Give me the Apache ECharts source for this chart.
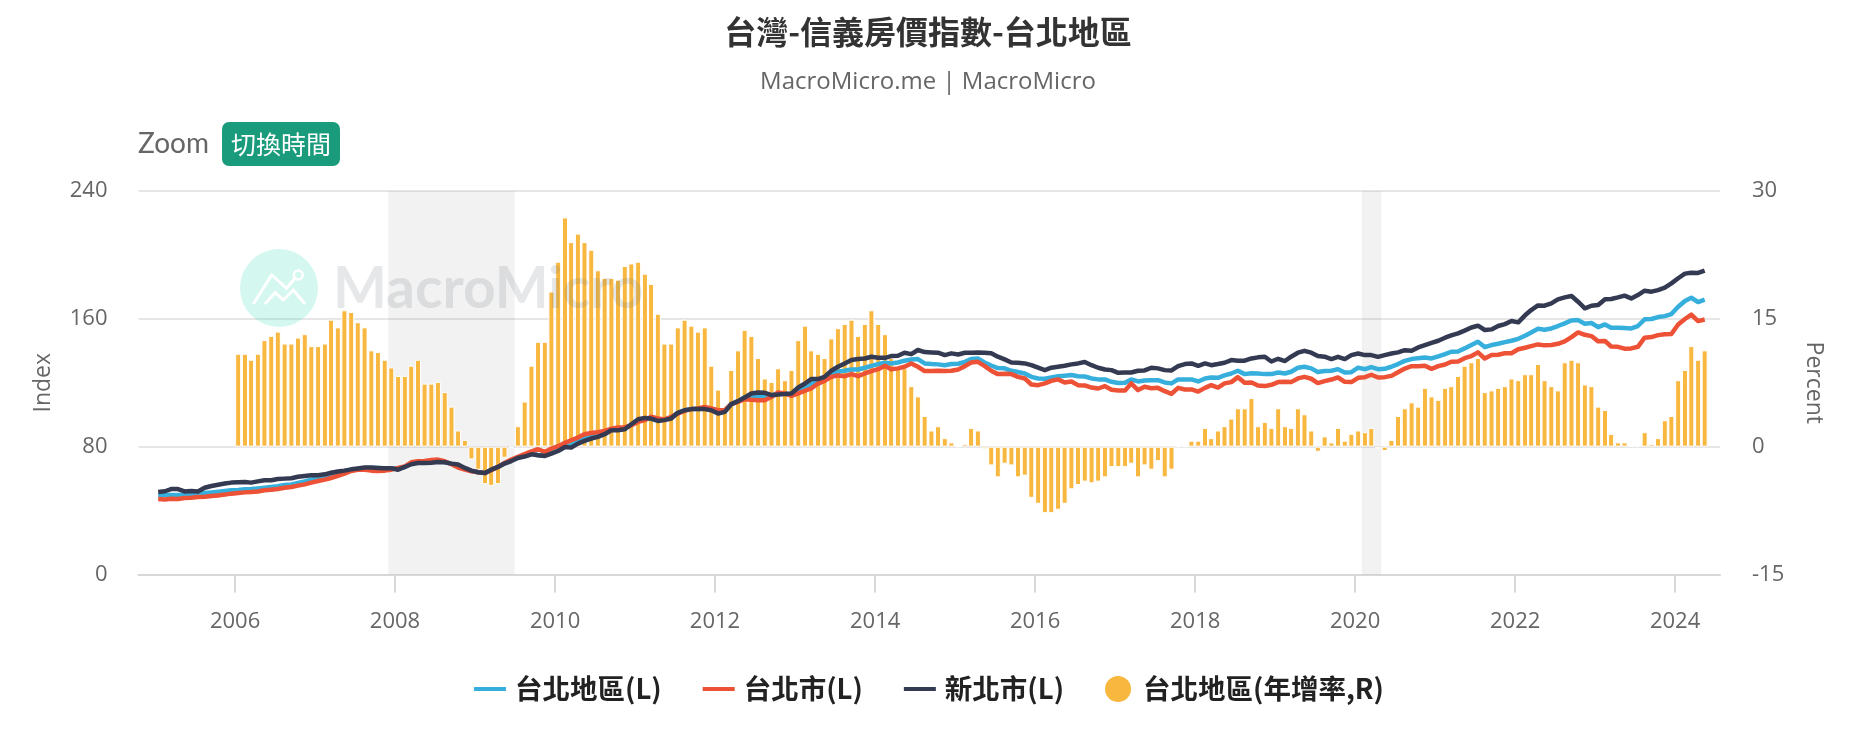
<!DOCTYPE html>
<html>
<head>
<meta charset="utf-8">
<title>台灣-信義房價指數-台北地區</title>
<script src="https://cdn.jsdelivr.net/npm/echarts@6/dist/echarts.min.js"></script>
<style>
html,body{margin:0;padding:0;background:#fff;}
#main{width:1856px;height:751px;}
</style>
</head>
<body>
<div id="main"></div>
<script>
// monthly, 2005-01 .. 2024-05
var taipeiArea=[49.5,49.8,49.8,49.8,49.8,50.2,50.6,51,51.4,51.8,52.3,52.7,
52.9,53.3,53.5,53.9,54.3,54.8,55.2,56,56.4,57.3,58.3,59.4,
60.6,61.4,62.5,63.5,64.6,65.6,66,66.5,66.7,66.7,66.3,66.3,
66.3,67.3,69.4,70,70.2,70.6,70.9,70.4,69.2,68.1,66.3,64.8,
64,63.5,65.4,67.3,69.6,71.5,73.2,74.6,
76.3,74.6,74.6,76.7,78.2,80.3,80.9,83.6,85.7,86.7,87.6,88.8,90.7,90.9,91.3,93.8,
96.6,97.6,97.6,96.6,97,98.2,101.2,102.8,103.5,103.5,103.9,103.3,101.8,102.4,106.6,108.3,
110.8,111.6,111.6,111.2,112.2,113.3,113.1,112.7,115,117,119.1,121.2,122.7,125.4,126.9,127.5,
128.3,128.3,129.4,130.6,131.7,132.5,132.1,132.7,133.8,134.6,134.8,132.1,
131.7,131.5,131,131.7,131.9,133.1,134.8,135.2,132.7,130.8,129.2,129,
127.5,126.7,125.8,123.7,122.7,122.5,123.3,124.1,124.4,124.8,124.1,123.9,
122.7,122.1,122.1,120.6,119.8,120,122.1,120.8,121.4,121.6,121.6,120.2,
119.6,122.1,122.1,122.1,120.8,122.7,123.3,123.1,124.6,125.8,127.5,125.4,
126,125.8,125.4,125.4,126.4,125.8,126.9,129.4,130,129,126.7,127.3,
127.5,128.5,126.4,126.6,129.4,128.5,129.8,128.5,128.7,130,131.7,133.7,134.8,135.4,135.8,135.2,
136.5,137.9,139.4,139.6,141.5,143.6,145.7,142.3,143.6,144.4,145.4,146.3,147.5,149.4,151.5,153.8,153.2,
154,155.5,157.2,159,159.2,156.9,157.4,154.8,156.5,154.4,154.4,154.2,154,155.5,159.7,159.9,161.1,161.7,
163,167.6,171.2,173.2,170.5,172];
var taipeiCity=[47.2,47,47.4,47.2,47.9,48.1,48.5,48.7,49.1,49.5,50,50.6,
51,51.4,51.6,52,52.7,53.1,53.5,54.3,54.8,55.6,56.4,57.5,
58.5,59.4,60.4,61.7,63.1,64.8,65.6,65.6,65,64.8,65,65.6,
66.7,67.7,70.2,70.9,71,71.7,71.9,70.9,69,66.9,65.6,64.6,
64,63.5,65.2,67.3,69.8,71.9,73.6,75.3,
77.1,78.4,76.7,78.8,80.3,82.4,84,85.7,87.8,88.6,89,89.9,91.3,92,92,93.4,
95.5,96.6,98.7,97.6,97,98.7,100.7,102.4,103.5,103.9,104.9,103.9,102.8,102.8,106.6,108,
109.7,109.3,109.1,109.1,111.2,113.9,113.3,111.8,113.3,115,116.4,119.5,121.2,123.7,124.6,124.1,
125.4,124.1,125.8,127.3,128.5,130.6,128.5,129,130,132.1,130,127.3,
127.3,127.5,127.3,127.5,128.3,130.4,132.7,133.1,130.6,127.5,125.4,125.6,
125.4,123.7,122.7,118.9,118.5,119.6,121.2,122.1,120.2,120.8,118.5,118.3,
117,116.4,117.9,115.6,115.2,115.2,119.6,115.4,117.5,116.6,116.8,114.7,
113.1,116.8,115.8,115.8,114.5,116.8,118.5,117,119.6,120.4,123.5,120,
120.2,118.3,117.9,118.7,120.4,120.6,120.4,122.7,123.7,122.5,119.8,121,
122,123.3,120.6,120.4,123.1,123.5,125,123.3,123.5,124.3,126.6,128.9,130.4,130.4,130.6,128.7,
130.4,131.4,133.1,133.3,135.4,136.7,139,135.2,137.3,137.5,138.5,138.5,141,141.9,142.9,144,143.4,
143.6,144.4,145.9,148.6,151.5,150,149.2,145.9,146.1,142.7,142.5,141.3,141.5,142.5,148.2,148.6,149.8,150.3,
150.5,156.5,159.9,162.6,158.6,159.6];
var newTaipei=[51.6,52.1,53.5,53.5,52,52.2,52,54.3,55.4,56.2,56.9,57.5,
57.7,57.9,57.5,58.3,59,59,59.8,60,60.2,61.2,61.7,62.1,
62.1,62.7,63.7,64.4,65,65.8,66.3,66.9,66.9,66.7,66.5,66.5,
65.6,67.3,69,69.8,69.8,70,70.4,70.2,69.4,68.8,66.7,65,
64,63.5,65.6,67.3,69.4,71,72.9,73.8,
75.2,74.6,74.2,75.7,77.3,79.8,79.4,81.9,83.6,85.1,86.1,87.8,90.3,90.3,90.9,94,
97.2,98,97.6,96.1,96.6,97.6,101.2,102.8,103.5,103.5,103.5,102.8,100.7,101.8,106.6,108.5,
110.8,113.3,113.9,113.7,112.2,112.7,112.9,113.3,117,119.5,122.3,122.3,123.7,127.5,130,132.1,
134.2,134.8,135.2,136.3,135.6,135.6,136.7,136.9,138.8,137.9,140.5,139.2,
139,138.8,137.3,138.4,137.7,138.8,138.8,139,138.8,138.4,136.3,134.6,
132.7,132.5,132.1,131,129.4,127.9,129.4,130,130.6,131.5,132.1,133,
131,129.4,128.3,127.9,126.2,126.4,126.4,127.5,127.7,129.4,129,127.9,
127.7,130.4,131.7,132.1,130.6,132.1,131,131.7,132.5,134.2,133.8,133.8,
135.2,135.9,136.3,133.3,135,133.6,136.3,138.8,140,138.8,136.7,136.3,
134.8,136.2,134.8,137.3,138.3,137.3,137.3,136.2,137.3,138.3,139,140.4,140,142.1,143.6,145,146.3,
148.2,149.6,150.9,152.6,154.6,155.7,153,153.4,155.5,156.7,158.6,157.8,162.2,165.5,168.4,168.2,169.7,
172.2,173.4,174.3,170.7,166.6,168.2,168.6,172.2,172.4,173.4,174.5,172.8,174.9,177.6,177,178,179.5,182.2,
185.4,188.3,188.9,188.7,190.2];
// year on year, 2006-01 .. 2024-05
var taipeiAreaYoy=[10.9,10.9,10.2,10.9,12.5,13,13.5,12.1,12.1,12.8,13.2,11.8,
11.8,12.1,14.9,14,16,15.8,14.6,14,11.3,11.1,10.2,9.3,
8.3,8.3,9.5,10.2,7.4,7.4,7.6,6.4,4.7,1.9,0.8,-1.5,
-2.7,-4.4,-4.6,-4.4,-1.3,-0.1,2.4,5.3,9.5,12.3,12.3,18.2,
21.7,26.9,24,25,24,23.1,20.7,19.8,19.8,19.6,21.2,21.5,
21.7,20.3,19.1,15.6,12.1,12.1,14,14.9,14.2,13.5,14,9.5,
6.7,4,9,11.3,13.7,13,10.4,8,7.6,9.2,7.8,9,
12.5,14.2,11.3,10.9,10.4,12.7,13.9,14.4,14.9,13,14.4,16,
14.4,13.2,10.4,9.4,9.2,7.1,5.9,3.6,1.9,2.4,1,0.5,
0,0.3,2.2,1.9,-0.3,-2.2,-3.6,-2,-2.2,-3.6,-3.4,-6,
-6.7,-7.8,-7.8,-7.4,-6.7,-5,-4.5,-4.1,-4.3,-4.1,-3.6,-2.4,
-2.4,-2.4,-2,-3.6,-2.2,-2.7,-1.7,-3.6,-2.7,0,0,0.7,
0.7,2.2,1,1.9,2.4,3.3,4.5,4.5,5.7,2.4,2.9,2.2,
4.5,2.4,2.2,4.5,3.8,1.9,-0.6,1.2,0.5,2.2,0.7,1.5,
1.9,1.7,2.2,-0.2,-0.5,0.8,3.6,4.5,5.2,4.7,6.9,5.9,
5.5,6.9,7.1,8.3,9.5,9.9,10.4,6.4,6.6,6.9,7.1,8,
7.8,8.5,8.5,9.7,7.8,7.1,6.6,9.9,10.2,9.9,7.3,7.1,
4.7,4.3,1.5,0.5,0.5,0.05,0.05,1.7,0.3,1,3.1,3.6,
7.8,9,11.8,10.2,11.3];
var legendNames=['台北地區(L)','台北市(L)','新北市(L)','台北地區(年增率,R)'];
var yearTicks=[2006,2008,2010,2012,2014,2016,2018,2020,2022,2024];
var recessions=[['2007-12-01','2009-06-30'],['2020-02-01','2020-04-30']];
var lineColors=['#36afdd','#ed5136','#343a52'];
var barColor='#f8b73f';
var FONT='"Open Sans","Noto Sans CJK TC",sans-serif';
var CJK='"Noto Sans CJK TC","Open Sans",sans-serif';

function monthDate(i){
    return Date.UTC(2005+Math.floor(i/12),i%12,15);
}
function withDates(list,offset){
    var out=[];
    for(var i=0;i<list.length;i++)
        out.push([monthDate(i+offset),list[i]]);
    return out;
}
function lineSeries(name,list,color){
    return {
        name:name,type:'line',yAxisIndex:0,z:3,
        data:withDates(list,0),
        showSymbol:false,symbol:'none',
        lineStyle:{color:color,width:4.5,join:'round'},
        itemStyle:{color:color},
        emphasis:{disabled:true}
    };
}
function lineLegend(name,color){
    return {name:name,itemStyle:{opacity:0},lineStyle:{color:color,width:4}};
}
var tickValues=[];
for(var i=0;i<yearTicks.length;i++)
    tickValues.push(Date.UTC(yearTicks[i],0,1));

var areas=[];
for(var i=0;i<recessions.length;i++)
    areas.push([{xAxis:Date.parse(recessions[i][0])},{xAxis:Date.parse(recessions[i][1])}]);

var myChart=echarts.init(document.getElementById('main'));
var option={
    animation:false,
    backgroundColor:'#fff',
    textStyle:{fontFamily:FONT},
    title:[{
        text:'台灣-信義房價指數-台北地區',left:'center',top:11,
        textStyle:{fontFamily:CJK,fontSize:32,fontWeight:'bold',color:'#333'}
    },{
        text:'MacroMicro.me | MacroMicro',left:'center',top:65,
        textStyle:{fontFamily:FONT,fontSize:24,fontWeight:'normal',color:'#666'}
    }],
    grid:{left:138.5,right:136,top:191,bottom:176.5},
    legend:{
        top:669,left:'center',
        itemWidth:32,itemHeight:28,itemGap:39,
        textStyle:{fontFamily:CJK,fontSize:27.5,fontWeight:'bold',color:'#222',padding:[0,0,0,4]},
        data:[
            lineLegend(legendNames[0],lineColors[0]),
            lineLegend(legendNames[1],lineColors[1]),
            lineLegend(legendNames[2],lineColors[2]),
            {name:legendNames[3],icon:'circle'}
        ]
    },
    xAxis:{
        type:'value',
        min:Date.parse('2004-10-17'),max:Date.parse('2024-07-24'),
        splitLine:{show:false},
        axisLine:{onZero:false,lineStyle:{color:'#d8d8d8',width:2}},
        axisTick:{customValues:tickValues,length:18,lineStyle:{color:'#d8d8d8',width:2}},
        axisLabel:{
            customValues:tickValues,margin:36,fontSize:22,color:'#666',
            formatter:function(v){return new Date(v).getUTCFullYear()+'';}
        }
    },
    yAxis:[{
        type:'value',min:0,max:240,interval:80,
        name:'Index',nameLocation:'middle',nameGap:84,nameRotate:90,
        nameTextStyle:{fontSize:23,color:'#666'},
        axisLine:{show:false},axisTick:{show:false},
        axisLabel:{margin:31,fontSize:22,color:'#666'},
        splitLine:{lineStyle:{color:'#e6e6e6',width:2}}
    },{
        type:'value',min:-15,max:30,interval:15,
        name:'Percent',nameLocation:'middle',nameGap:82,nameRotate:-90,
        nameTextStyle:{fontSize:23,color:'#666'},
        axisLine:{show:false},axisTick:{show:false},
        axisLabel:{margin:32,fontSize:22,color:'#666'},
        splitLine:{show:false}
    }],
    series:[
        lineSeries(legendNames[0],taipeiArea,lineColors[0]),
        lineSeries(legendNames[1],taipeiCity,lineColors[1]),
        lineSeries(legendNames[2],newTaipei,lineColors[2]),
        {
            name:legendNames[3],type:'bar',yAxisIndex:1,z:2,
            data:withDates(taipeiAreaYoy,12),
            barWidth:6,
            itemStyle:{color:barColor,borderColor:'#fff',borderWidth:1},
            emphasis:{disabled:true}
        },
        {
            name:'shade',type:'line',yAxisIndex:0,z:1,data:[],
            markArea:{silent:true,itemStyle:{color:'rgba(0,0,0,0.05)'},data:areas}
        }
    ],
    graphic:[
        {type:'text',left:138,top:130,style:{text:'Zoom',font:'28px Lato,"Open Sans",sans-serif',fill:'#666'}},
        {type:'rect',shape:{x:222,y:122,width:118,height:44,r:7},style:{fill:'#1a9b7c'}},
        {type:'text',x:281,y:144,style:{text:'切換時間',font:'25px '+CJK,fill:'#fff',align:'center',verticalAlign:'middle'}},
        // watermark
        {type:'circle',z:50,silent:true,shape:{cx:279,cy:288,r:39},style:{fill:'rgba(60,220,180,0.22)'}},
        {type:'polyline',z:51,silent:true,shape:{points:[[253.3,304],[271.7,275],[286.7,288.3],[295.7,277.3]]},style:{stroke:'#fff',lineWidth:3,fill:null}},
        {type:'polyline',z:51,silent:true,shape:{points:[[265,304],[275,292.7],[283.3,300],[293.3,290],[305,304]]},style:{stroke:'#fff',lineWidth:3,fill:null}},
        {type:'circle',z:51,silent:true,shape:{cx:298.3,cy:275,r:4.5},style:{stroke:'#fff',lineWidth:2.5,fill:null}},
        {type:'text',z:50,silent:true,x:333,y:290,style:{text:'MacroMicro',font:'bold 57px Lato,sans-serif',fill:'rgba(110,120,130,0.18)',verticalAlign:'middle'}}
    ]
};
myChart.setOption(option);
</script>
</body>
</html>
